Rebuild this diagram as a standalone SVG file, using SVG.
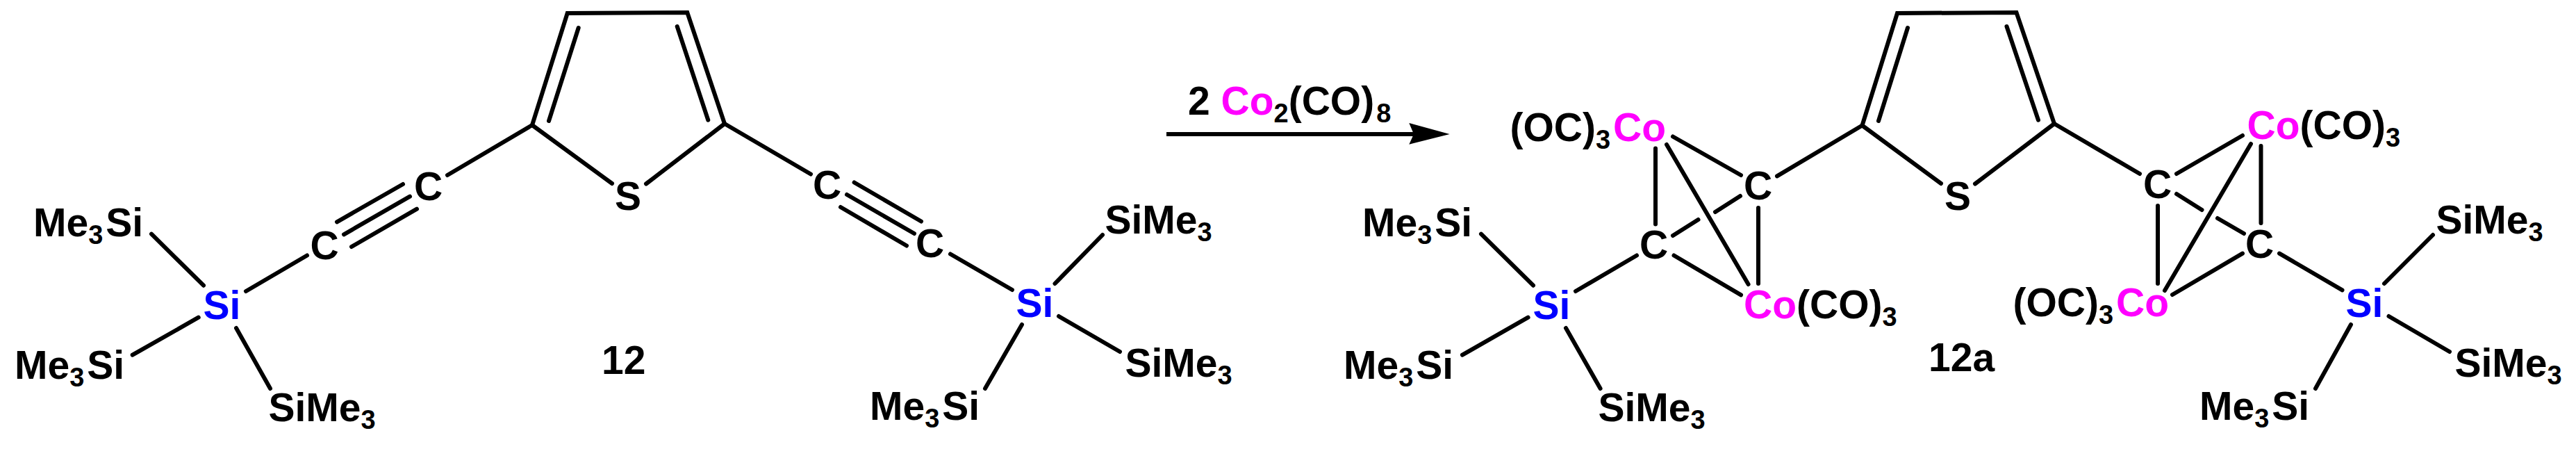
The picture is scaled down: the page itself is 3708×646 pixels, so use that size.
<svg xmlns="http://www.w3.org/2000/svg" width="3708" height="646" viewBox="0 0 3708 646">
<style>
text{font-family:"Liberation Sans",Arial,sans-serif;font-weight:700;font-size:57px;fill:#000}
.sub{font-size:38px}
.si{fill:#0000ff}.co{fill:#ff00ff}
#connectors line{stroke:#000;stroke-width:6;stroke-linecap:round}
#connectors polyline{fill:none;stroke:#000;stroke-width:6;stroke-linejoin:miter}
#connectors .arrow{stroke-width:6;stroke-linecap:butt}
</style>
<rect width="3708" height="646" fill="#fff"/>
<g id="connectors">
<polyline points="766,180 816.7,19 989.3,18 1043,178"/>
<line x1="832.7" y1="40" x2="790" y2="174"/><line x1="974.7" y1="38" x2="1019.3" y2="172.7"/>
<line x1="766" y1="180" x2="881" y2="264"/><line x1="930" y1="264.5" x2="1043" y2="178"/>
<line x1="644" y1="252" x2="766" y2="180"/>
<line x1="485" y1="319.3" x2="580" y2="265"/><line x1="495" y1="337.3" x2="590" y2="282.7"/><line x1="506" y1="355" x2="600" y2="300.7"/>
<line x1="354" y1="419" x2="442" y2="367.5"/>
<line x1="218" y1="336.7" x2="293" y2="410.7"/><line x1="285.7" y1="456.7" x2="190.7" y2="510.7"/><line x1="340" y1="472" x2="389" y2="559"/>
<line x1="1043" y1="178" x2="1167" y2="250.5"/>
<line x1="1229.6" y1="262.5" x2="1326" y2="318.5"/><line x1="1219" y1="280" x2="1316" y2="336"/><line x1="1210" y1="298" x2="1305" y2="353.5"/>
<line x1="1368" y1="365.5" x2="1457" y2="417"/>
<line x1="1518.5" y1="408" x2="1587" y2="338"/><line x1="1524" y1="455" x2="1612" y2="506"/><line x1="1471" y1="467" x2="1418" y2="559"/>
<line class="arrow" x1="1679" y1="193" x2="2040" y2="193"/>
<polygon points="2086.7,193 2028.3,177 2035,193 2028.3,207.7" fill="#000"/>
<line x1="2408" y1="196.5" x2="2506" y2="252"/><line x1="2383" y1="213.5" x2="2383" y2="322.5"/><line x1="2399" y1="208" x2="2516.6" y2="409"/>
<line x1="2505" y1="282" x2="2469" y2="305"/><line x1="2444.5" y1="316" x2="2408" y2="339"/>
<line x1="2531" y1="299" x2="2531" y2="408"/><line x1="2409.5" y1="367.5" x2="2506" y2="424.4"/>
<line x1="2558" y1="253.4" x2="2680.5" y2="180.5"/><line x1="2356" y1="367.5" x2="2268" y2="419"/>
<line x1="2132" y1="336.7" x2="2207" y2="410.7"/><line x1="2199.6" y1="456.7" x2="2105" y2="510.7"/><line x1="2254" y1="472" x2="2303.6" y2="559"/>
<polyline points="2680.5,180.5 2731,19 2902.5,18 2957,178"/>
<line x1="2746" y1="40" x2="2704" y2="174"/><line x1="2888.5" y1="38" x2="2934" y2="172.7"/>
<line x1="2680.5" y1="180.5" x2="2794" y2="264"/><line x1="2843" y1="264.5" x2="2957" y2="178"/>
<line x1="2957" y1="178" x2="3080" y2="250"/>
<line x1="3133" y1="250" x2="3228" y2="195"/><line x1="3240" y1="207" x2="3116" y2="418"/><line x1="3254.5" y1="210" x2="3254.5" y2="321"/>
<line x1="3133" y1="279" x2="3169.5" y2="302"/><line x1="3192" y1="314" x2="3230" y2="336"/>
<line x1="3106" y1="296" x2="3106" y2="408"/><line x1="3228" y1="364.6" x2="3127" y2="424"/>
<line x1="3281" y1="364.6" x2="3371.5" y2="417.4"/><line x1="3432" y1="408" x2="3502" y2="338"/><line x1="3438.5" y1="455" x2="3526" y2="506"/><line x1="3384" y1="467" x2="3333" y2="559"/>
</g>
<g id="n-me3si-1"><text x="48" y="340">Me<tspan class="sub" dy="11">3</tspan><tspan dx="4" dy="-11">Si</tspan></text></g>
<g id="n-me3si-2"><text x="21" y="545">Me<tspan class="sub" dy="11">3</tspan><tspan dx="4" dy="-11">Si</tspan></text></g>
<g id="n-sime3-1"><text x="386.5" y="606">SiMe<tspan class="sub" dy="11">3</tspan></text></g>
<g id="n-si-1"><text class="si" x="292.5" y="459">Si</text></g>
<g id="n-c-1"><text x="446.5" y="373">C</text></g>
<g id="n-c-2"><text x="596" y="288">C</text></g>
<g id="n-s-1"><text x="885" y="302">S</text></g>
<g id="n-12"><text x="866" y="538">12</text></g>
<g id="n-c-3"><text x="1170" y="286">C</text></g>
<g id="n-c-4"><text x="1318" y="370">C</text></g>
<g id="n-si-2"><text class="si" x="1462.5" y="456">Si</text></g>
<g id="n-sime3-2"><text x="1590.5" y="336">SiMe<tspan class="sub" dy="11">3</tspan></text></g>
<g id="n-sime3-3"><text x="1619.5" y="542">SiMe<tspan class="sub" dy="11">3</tspan></text></g>
<g id="n-me3si-3"><text x="1252" y="604">Me<tspan class="sub" dy="11">3</tspan><tspan dx="4" dy="-11">Si</tspan></text></g>
<g id="reagent"><text x="1710" y="165">2 <tspan class="co">Co</tspan><tspan class="sub" dy="11">2</tspan><tspan dy="-11">(CO)</tspan><tspan class="sub" dx="3" dy="11">8</tspan></text></g>
<g id="n-co-1"><text x="2173.5" y="203">(OC)<tspan class="sub" dy="11">3</tspan><tspan class="co" dx="4" dy="-11">Co</tspan></text></g>
<g id="n-c-5"><text x="2510" y="287">C</text></g>
<g id="n-c-6"><text x="2360" y="372">C</text></g>
<g id="n-si-3"><text class="si" x="2206.5" y="459">Si</text></g>
<g id="n-me3si-4"><text x="1961" y="340">Me<tspan class="sub" dy="11">3</tspan><tspan dx="4" dy="-11">Si</tspan></text></g>
<g id="n-me3si-5"><text x="1934" y="545">Me<tspan class="sub" dy="11">3</tspan><tspan dx="4" dy="-11">Si</tspan></text></g>
<g id="n-sime3-4"><text x="2300.5" y="606">SiMe<tspan class="sub" dy="11">3</tspan></text></g>
<g id="n-co-2"><text x="2510" y="458"><tspan class="co">Co</tspan>(CO)<tspan class="sub" dy="11">3</tspan></text></g>
<g id="n-12a"><text x="2776" y="534">12a</text></g>
<g id="n-s-2"><text x="2799" y="302">S</text></g>
<g id="n-c-7"><text x="3085" y="285">C</text></g>
<g id="n-co-3"><text x="3234.5" y="200"><tspan class="co">Co</tspan>(CO)<tspan class="sub" dy="11">3</tspan></text></g>
<g id="n-co-4"><text x="2897.5" y="455">(OC)<tspan class="sub" dy="11">3</tspan><tspan class="co" dx="4" dy="-11">Co</tspan></text></g>
<g id="n-c-8"><text x="3232" y="371">C</text></g>
<g id="n-si-4"><text class="si" x="3376.5" y="456">Si</text></g>
<g id="n-sime3-5"><text x="3506.5" y="336">SiMe<tspan class="sub" dy="11">3</tspan></text></g>
<g id="n-sime3-6"><text x="3533.5" y="542">SiMe<tspan class="sub" dy="11">3</tspan></text></g>
<g id="n-me3si-6"><text x="3166" y="604">Me<tspan class="sub" dy="11">3</tspan><tspan dx="4" dy="-11">Si</tspan></text></g>
</svg>
